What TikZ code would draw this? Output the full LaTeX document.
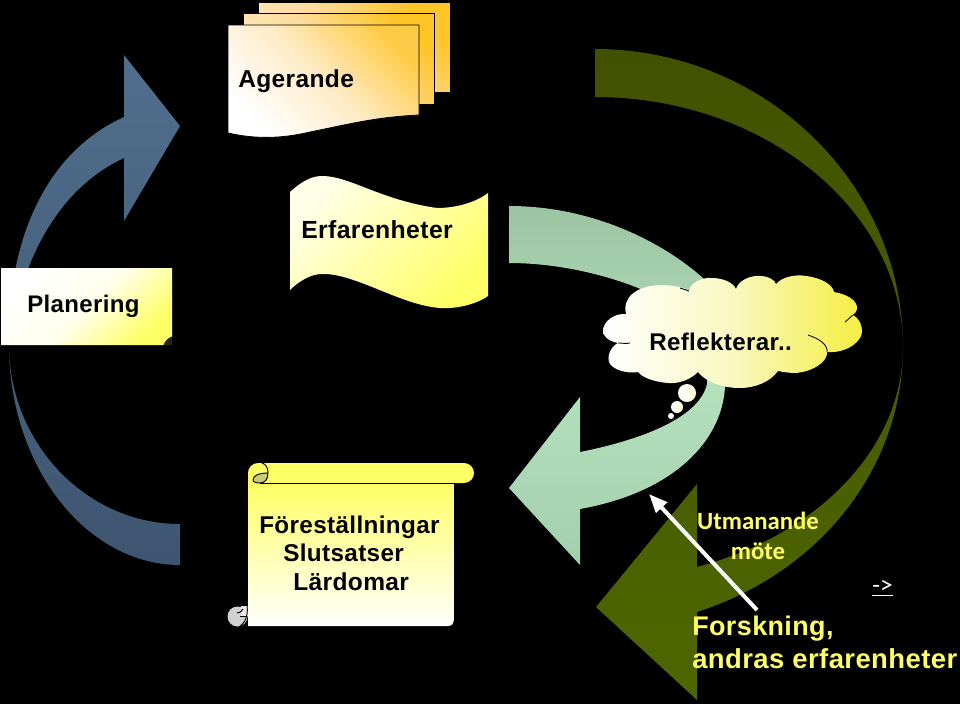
\documentclass[tikz,border=0pt]{standalone}
\usepackage{fontspec}
\usetikzlibrary{arrows.meta}
\newfontfamily\hvfont[LetterSpace=1.5]{Liberation Sans Bold}
\newfontfamily\cbfont{Carlito}
\definecolor{bluetop}{HTML}{506E8C}
\definecolor{bluebot}{HTML}{3E5570}
\definecolor{olivetop}{HTML}{425100}
\definecolor{olivebot}{HTML}{4E6600}
\definecolor{minttop}{HTML}{9CC4A2}
\definecolor{mintmid}{HTML}{B4E0BC}
\definecolor{mintbot}{HTML}{A4CFAD}
\definecolor{softyellow}{HTML}{FFFF66}
\definecolor{orangedeep}{HTML}{FFC425}
\definecolor{orangemid}{HTML}{FDDC9C}
\definecolor{cloudyellow}{HTML}{F5EE40}
\definecolor{cloudmid}{HTML}{F9F8C0}
\tikzset{
  lbl/.style={anchor=base west,inner sep=0pt,font=\hvfont\fontsize{18.4}{22}\selectfont,text=black},
  ylbl/.style={anchor=base west,inner sep=0pt,font=\hvfont\fontsize{20.6}{24}\selectfont,text=softyellow},
  cblbl/.style={anchor=base,inner sep=0pt,font=\cbfont\bfseries\fontsize{18.6}{22}\selectfont,text=softyellow},
  backsheet/.style={draw=black,line width=0.6pt,bottom color=orangemid!60!white,top color=orangedeep,middle color=orangemid,shading=axis,shading angle=-45},
  frontsheet/.style={draw=black,line width=0.6pt,bottom color=white,top color=orangedeep!70!orangemid,middle color=orangemid!55!white,shading=axis,shading angle=-45},
}
\begin{document}
\begin{tikzpicture}[x=0.75pt,y=-0.75pt]
\useasboundingbox (0,0) rectangle (960,704);
\fill[black] (0,0) rectangle (960,704);
% blue curved arrow
\shade[top color=bluetop,bottom color=bluebot]
  (180,565) .. controls (86,565) and (9,466) .. (9,345)
  .. controls (7,250) and (40,155) .. (124,117)
  -- (124,55) -- (180,126) -- (124,221) -- (124,158)
  .. controls (65,185) and (22,250) .. (9,345)
  .. controls (9,443) and (86,524) .. (180,524) -- cycle;
% olive curved arrow
\shade[top color=olivetop,bottom color=olivebot]
  (595,49) .. controls (764,49) and (903,183) .. (903,347)
  .. controls (903,467) and (821,572) .. (697,612)
  -- (697,700) -- (596,607) -- (697,484) -- (697,567)
  .. controls (821,534) and (903,446) .. (903,347)
  .. controls (903,210) and (764,97) .. (595,97) -- cycle;
% mint curved arrow
\shade[top color=minttop,bottom color=mintbot,middle color=mintmid]
  (509,206) .. controls (590,206) and (660,240) .. (703,278)
  .. controls (718,300) and (728,345) .. (725,387)
  .. controls (722,440) and (675,492) .. (580,509)
  -- (580,565) -- (509,488) -- (580,397) -- (580,452)
  .. controls (650,438) and (700,415) .. (707,384)
  .. controls (710,345) and (680,305) .. (643,290)
  .. controls (610,276) and (560,263) .. (509,263) -- cycle;
% Agerande sheets
\path[backsheet] (258,2) rectangle (450,92);
\path[backsheet] (243,13) rectangle (434,104);
\path[frontsheet]
  (228,25) -- (419,25) -- (419,115) .. controls (375,117) and (345,125) .. (310,132) .. controls (280,139) and (255,139) .. (228,133) -- cycle;
% Erfarenheter wave
\shade[top color=softyellow,bottom color=white!85!softyellow,shading=axis,shading angle=-135]
  (290,192) .. controls (300,183) and (310,176) .. (322,176)
  .. controls (350,176) and (380,200) .. (437,208) .. controls (455,208) and (475,203) .. (488,193)
  -- (488,296) .. controls (475,305) and (455,309) .. (440,308)
  .. controls (400,305) and (355,273) .. (322,274) .. controls (310,274) and (298,282) .. (290,290) -- cycle;
% Planering note
\shade[top color=softyellow,bottom color=white,middle color=white!88!softyellow,shading=axis,shading angle=-135]
  (1,268) -- (172,268) -- (172,336) -- (163,345) -- (1,345) -- cycle;
\fill[black!85!softyellow] (163,345) .. controls (165,340) and (167,338) .. (172,336) -- (172,345) -- cycle;
\draw[softyellow!50!white,line width=0.5pt] (163,345) .. controls (165,340) and (167,338) .. (172,336);
% scroll
\fill[softyellow] (258,463) -- (464,463) .. controls (470,463) and (474,468) .. (474,473) .. controls (474,478) and (470,483) .. (464,483) -- (248,483) -- (248,473) .. controls (248,468) and (252,463) .. (258,463) -- cycle;
\shade[top color=softyellow,bottom color=white]
  (248,483) -- (454,483) -- (454,620) .. controls (454,623) and (452,626) .. (448,626) -- (248,626) -- cycle;
\path[fill=softyellow!60!gray,draw=black,line width=0.7pt]
  (253,480) .. controls (253,475) and (260,473) .. (268,473) .. controls (268,479) and (265,483) .. (260,483) .. controls (256,483) and (253,482) .. (253,480) -- cycle;
\draw[black,line width=0.7pt] (262,463) .. controls (266,464) and (268,468) .. (268,473);
\draw[black,line width=0.7pt] (260,483) -- (454,483);
\fill[black!18] (237.5,616.5) circle[radius=10];
\fill[black!8] (241,606) -- (248,606) -- (248,616) -- (241,616) -- cycle;
\draw[black,line width=0.7pt] (243,609) .. controls (241,612) and (239,613) .. (237,613);
\draw[black,line width=0.7pt] (247,606) .. controls (248,611) and (247,622) .. (240,626);
\draw[black,line width=0.7pt] (240,616) -- (247,616);
% cloud
\shade[left color=white,right color=cloudyellow,middle color=cloudmid]
  (626,314) .. controls (622,296) and (638,286) .. (660,285) .. controls (672,285) and (684,287) .. (689,291)
  .. controls (690,283) and (702,277) .. (712,278) .. controls (722,278) and (733,282) .. (736,289)
  .. controls (738,281) and (750,275) .. (760,276) .. controls (768,276) and (775,280) .. (776,284)
  .. controls (782,277) and (795,274) .. (806,276) .. controls (822,278) and (833,285) .. (834,292)
  .. controls (846,294) and (858,300) .. (857,309) .. controls (857,311) and (855,313) .. (853,315)
  .. controls (862,320) and (864,332) .. (860,338) .. controls (853,349) and (838,353) .. (827,352)
  .. controls (828,362) and (812,372) .. (795,373) .. controls (790,373) and (783,372) .. (778,371)
  .. controls (770,382) and (755,388) .. (740,388) .. controls (725,388) and (708,384) .. (698,372)
  .. controls (690,380) and (678,384) .. (668,383) .. controls (655,382) and (643,378) .. (638,372)
  .. controls (628,374) and (612,370) .. (609,362) .. controls (607,354) and (612,346) .. (618,343)
  .. controls (608,341) and (603,336) .. (603,331) .. controls (603,321) and (615,313) .. (626,314) -- cycle;
\draw[black,line width=0.6pt] (618,343) .. controls (622,343) and (626,344) .. (630,343);
\draw[black,line width=0.6pt] (680,288) -- (689,291);
\draw[black,line width=0.6pt] (845,322) -- (853,315);
\draw[black,line width=0.6pt] (808,335) .. controls (820,339) and (828,345) .. (827,352);
\shade[left color=white,right color=white!80!cloudyellow] (687,393) circle[radius=9];
\shade[left color=white,right color=white!85!cloudyellow] (677,407) circle[radius=6];
\fill[white!95!cloudyellow] (671,416) circle[radius=3];
% white pointer
\coordinate (armstart) at (757,610);
\coordinate (armtip) at (649,494);
\draw[white,line width=3pt,-{Triangle[length=14pt,width=11pt]}] (armstart) -- (armtip);
% labels
\node[lbl] (agerande) at (238,87) {Agerande};
\node[lbl,font=\hvfont\fontsize{18.6}{22}\selectfont] (erfar) at (301,238) {Erfarenheter};
\node[lbl,font=\hvfont\fontsize{18}{22}\selectfont] (planering) at (27,312) {Planering};
\node[lbl,font=\hvfont\fontsize{18.1}{22}\selectfont] (reflekt) at (649,350) {Reflekterar..};
\node[lbl,font=\hvfont\fontsize{18.2}{22}\selectfont] (forest) at (259,533) {Föreställningar};
\node[lbl,font=\hvfont\fontsize{18.2}{22}\selectfont] (slut) at (283,561) {Slutsatser};
\node[lbl] (lard) at (293,590) {Lärdomar};
\node[ylbl,font=\hvfont\fontsize{20.2}{24}\selectfont] (forsk) at (692,635) {Forskning,};
\node[ylbl] (andras) at (692,668) {andras erfarenheter};
\node[cblbl] (utman) at (758,529) {Utmanande};
\node[cblbl] (mote) at (758,559) {möte};
\node[anchor=base,inner sep=0pt,font=\cbfont\fontsize{19}{22}\selectfont,text=white] (link) at (882.5,593) {\underline{->}};
\end{tikzpicture}
\end{document}
